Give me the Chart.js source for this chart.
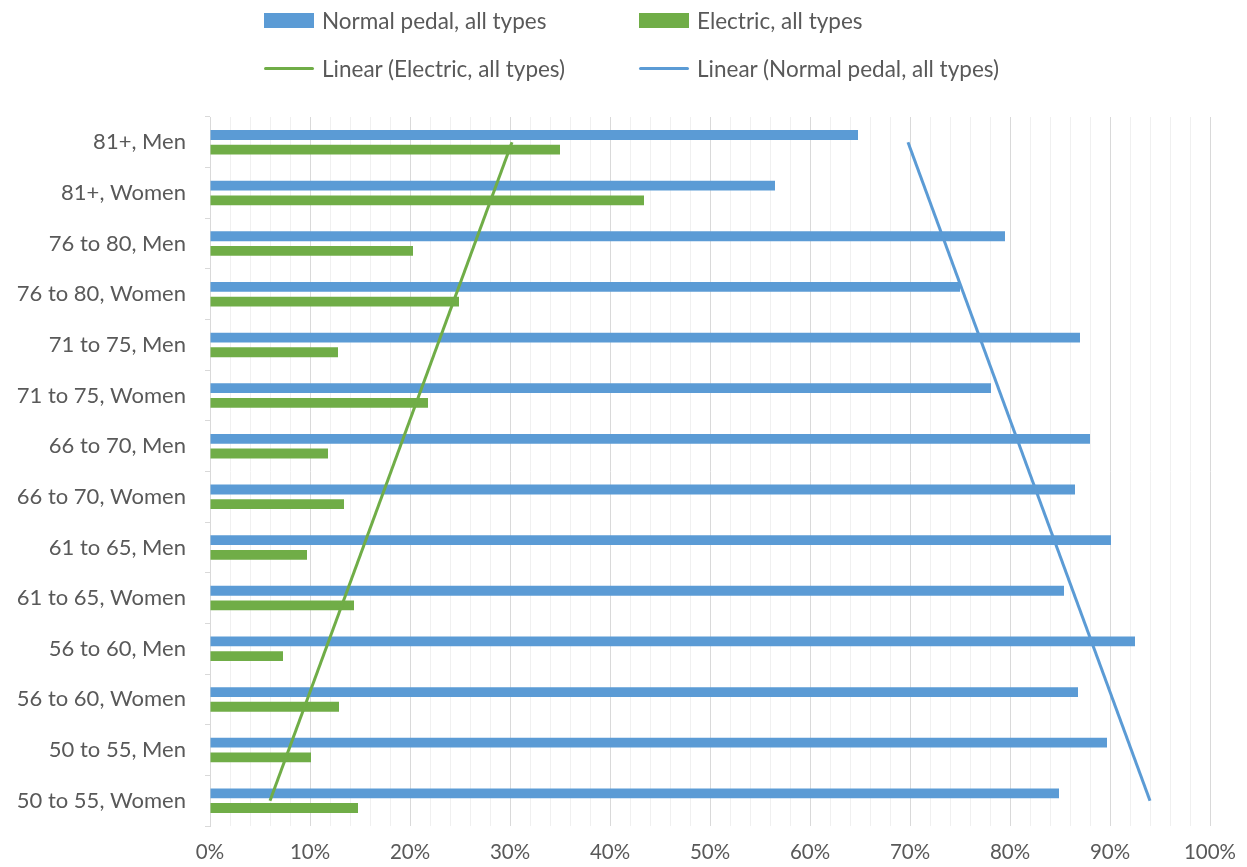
<!DOCTYPE html>
<html>
<head>
<meta charset="utf-8">
<script src="https://cdn.jsdelivr.net/npm/chart.js@4.4.1/dist/chart.umd.min.js"></script>
<style>
  html, body { margin:0; padding:0; background:#fff; }
  #wrap { position:relative; width:1247px; height:867px; }
  #legend { position:absolute; left:0; top:0; font-family:Lato, sans-serif; font-size:22.5px; color:#595959; }
  .item { position:absolute; display:flex; align-items:center; white-space:nowrap; height:26px; }
  .sw { width:50px; margin-right:8px; }
</style>
</head>
<body>
<div id="wrap">
  <canvas id="chart" width="1247" height="867"></canvas>
  <div id="legend"></div>
</div>
<script>
// categories, top to bottom
const categories = [
  '81+, Men', '81+, Women',
  '76 to 80, Men', '76 to 80, Women',
  '71 to 75, Men', '71 to 75, Women',
  '66 to 70, Men', '66 to 70, Women',
  '61 to 65, Men', '61 to 65, Women',
  '56 to 60, Men', '56 to 60, Women',
  '50 to 55, Men', '50 to 55, Women'
];
// percent values
const normalPedal = [64.8, 56.5, 79.5, 75.0, 87.0, 78.1, 88.0, 86.5, 90.1, 85.4, 92.5, 86.8, 89.7, 84.9];
const electric    = [35.0, 43.4, 20.3, 24.9, 12.8, 21.8, 11.8, 13.4,  9.7, 14.4,  7.3, 12.9, 10.1, 14.8];
// trend line ends (bottom category, top category)
const trendCats     = ['50 to 55, Women', '81+, Men'];
const trendElectric = [6.0, 30.2];
const trendNormal   = [94.0, 69.8];
const xTickLabels = ['0%','10%','20%','30%','40%','50%','60%','70%','80%','90%','100%'];

const BLUE = '#5b9bd5', GREEN = '#70ad47', TXT = '#595959';
const FONT = 'Lato, sans-serif';

const toPts = vals => vals.map((v, i) => ({ x: v, y: trendCats[i] }));

const datasets = [
  { type:'bar', label:'Normal pedal, all types', data: normalPedal, backgroundColor: BLUE, order: 1,
    categoryPercentage: 0.58, barPercentage: 0.67 },
  { type:'bar', label:'Electric, all types', data: electric, backgroundColor: GREEN, order: 1,
    categoryPercentage: 0.58, barPercentage: 0.67 },
  { type:'line', label:'Linear (Electric, all types)', data: toPts(trendElectric), borderColor: GREEN,
    borderWidth: 3, pointRadius: 0, fill: false, tension: 0, order: 0, indexAxis: 'y' },
  { type:'line', label:'Linear (Normal pedal, all types)', data: toPts(trendNormal), borderColor: BLUE,
    borderWidth: 3, pointRadius: 0, fill: false, tension: 0, order: 0, indexAxis: 'y' }
];

new Chart(document.getElementById('chart'), {
  data: { labels: categories, datasets },
  options: {
    indexAxis: 'y',
    responsive: false,
    animation: false,
    layout: { padding: { top: 117, right: 37, left: 0, bottom: 0 } },
    plugins: { legend: { display: false }, tooltip: { enabled: false } },
    scales: {
      x: {
        type: 'linear', min: 0, max: 100,
        afterFit: s => { s.height = 41; s.paddingRight = 0; s.paddingLeft = 0; },
        border: { display: false },
        grid: {
          drawTicks: false,
          color: c => (c.tick && c.tick.value % 10 === 0) ? '#d9d9d9' : '#f0f0f0',
          lineWidth: 1
        },
        ticks: {
          stepSize: 2, autoSkip: false, maxRotation: 0, padding: 14,
          color: TXT, font: { family: FONT, size: 20.5 },
          callback: v => v % 10 === 0 ? xTickLabels[v / 10] : ''
        }
      },
      y: {
        type: 'category',
        afterFit: s => { s.width = 210; },
        border: { display: true, color: '#d9d9d9', width: 1 },
        grid: { offset: true, drawOnChartArea: false, drawTicks: true, tickLength: 5, color: '#d9d9d9' },
        ticks: { padding: 19, color: TXT, font: { family: FONT, size: 22 } }
      }
    }
  }
});

// legend: two rows of two, aligned in columns
const legendPos = [
  { left: 264, top: 7 }, { left: 639, top: 7 },
  { left: 264, top: 55 }, { left: 639, top: 55 }
];
const legend = document.getElementById('legend');
datasets.forEach((d, i) => {
  const color = d.type === 'bar' ? d.backgroundColor : d.borderColor;
  const h = d.type === 'bar' ? 15 : 3;
  const el = document.createElement('div');
  el.className = 'item';
  el.style.left = legendPos[i].left + 'px';
  el.style.top = legendPos[i].top + 'px';
  el.innerHTML = `<span class="sw" style="height:${h}px;background:${color};${h===3?'border-radius:2px;':''}"></span><span>${d.label}</span>`;
  legend.appendChild(el);
});
</script>
</body>
</html>
